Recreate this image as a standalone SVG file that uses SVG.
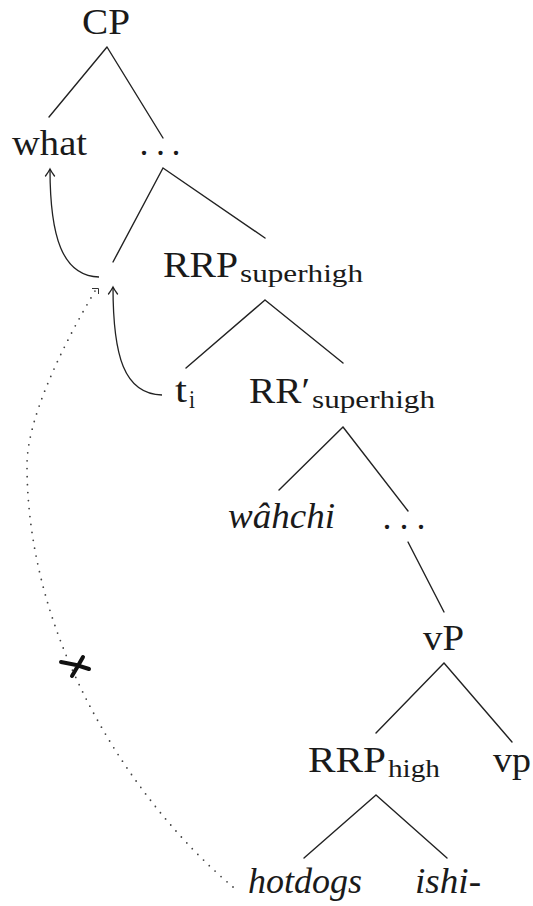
<svg xmlns="http://www.w3.org/2000/svg" width="533" height="906" viewBox="0 0 533 906">
  <style>
    .lbl { font-size: 36px; fill: #1a1a1a; }
    .it { font-style: italic; }
    .sub { font-size: 25px; fill: #1a1a1a; }
    .edge { stroke: #222; stroke-width: 1.4; fill: none; stroke-linecap: round; }
    .move { stroke: #222; stroke-width: 1.3; fill: none; }
    .dots { stroke: #444; stroke-width: 1.8; fill: none; stroke-linecap: round; stroke-dasharray: 0 8; }
    .cross { stroke: #111; stroke-width: 4; stroke-linecap: round; fill: none; }
  </style>
  <defs>
    <marker id="tip" markerUnits="userSpaceOnUse" markerWidth="14" markerHeight="14" viewBox="-8 -7 10 14" refX="0" refY="0" orient="auto">
      <path d="M -7 -4.5 Q -2.5 -1.2 0 0 Q -2.5 1.2 -7 4.5" fill="none" stroke="#222" stroke-width="1.3" stroke-linecap="round"/>
    </marker>
  </defs>

  <!-- tree branches and movement arrows -->
  <g id="connectors">
    <path class="edge" d="M107 47 L49 117 M107 47 L163 138"/>
    <path class="edge" d="M163 168 L113 262 M163 168 L265 238"/>
    <path class="edge" d="M265 300 L186 368 M265 300 L343 363"/>
    <path class="edge" d="M343 427 L279 490 M343 427 L408 511"/>
    <path class="edge" d="M408 542 L444 612"/>
    <path class="edge" d="M444 663 L376 733 M444 663 L512 742"/>
    <path class="edge" d="M376 795 L304 858 M376 795 L447 858"/>

    <path class="move" d="M99 277 C 62 276, 50 236, 50 169" marker-end="url(#tip)"/>
    <path class="move" d="M162 395 C 124 394, 113 356, 113 287" marker-end="url(#tip)"/>

    <path class="dots" d="M233 887 C 130 800, 27 640, 27 465 C 27 420, 60 350, 95 291"/>
    <path d="M92 288.5 H98.5 V294" fill="none" stroke="#333" stroke-width="1"/>
    <path class="cross" d="M61 662 Q 75 664 89 669 M83 657 Q 78 666 72 676"/>
  </g>

  <g id="labels" font-family="'Liberation Serif', 'DejaVu Serif', Tinos, 'Noto Serif', 'Nimbus Roman', 'FreeSerif', Times, Georgia, serif">
    <g id="n-cp"><text class="lbl" x="82" y="34" textLength="48" lengthAdjust="spacingAndGlyphs">CP</text></g>
    <g id="n-what"><text class="lbl" x="12" y="155" textLength="75" lengthAdjust="spacingAndGlyphs">what</text></g>
    <g id="n-dots1"><text class="lbl" x="139.5 156 171.5" y="155">...</text></g>
    <g id="n-rrp-superhigh">
      <text class="lbl" x="163" y="277" textLength="75" lengthAdjust="spacingAndGlyphs">RRP</text>
      <text class="sub" x="240" y="282" textLength="123" lengthAdjust="spacingAndGlyphs">superhigh</text>
    </g>
    <g id="n-trace">
      <text class="lbl" x="175" y="402" textLength="12" lengthAdjust="spacingAndGlyphs">t</text>
      <text class="sub" x="189" y="408" textLength="6" lengthAdjust="spacingAndGlyphs">i</text>
    </g>
    <g id="n-rrbar-superhigh">
      <text class="lbl" x="249" y="403" textLength="61" lengthAdjust="spacingAndGlyphs">RR′</text>
      <text class="sub" x="312" y="408" textLength="123" lengthAdjust="spacingAndGlyphs">superhigh</text>
    </g>
    <g id="n-wahchi"><text class="lbl it" x="228" y="528" textLength="107" lengthAdjust="spacingAndGlyphs">wâhchi</text></g>
    <g id="n-dots2"><text class="lbl" x="382.5 399.5 416.5" y="529">...</text></g>
    <g id="n-vP"><text class="lbl" x="423" y="650" textLength="41" lengthAdjust="spacingAndGlyphs">vP</text></g>
    <g id="n-rrp-high">
      <text class="lbl" x="308" y="772" textLength="78" lengthAdjust="spacingAndGlyphs">RRP</text>
      <text class="sub" x="388" y="777" textLength="52" lengthAdjust="spacingAndGlyphs">high</text>
    </g>
    <g id="n-vp"><text class="lbl" x="493" y="772" textLength="38" lengthAdjust="spacingAndGlyphs">vp</text></g>
    <g id="n-hotdogs"><text class="lbl it" x="248" y="893" textLength="114" lengthAdjust="spacingAndGlyphs">hotdogs</text></g>
    <g id="n-ishi"><text class="lbl it" x="415" y="893" textLength="66" lengthAdjust="spacingAndGlyphs">ishi-</text></g>
  </g>
</svg>
